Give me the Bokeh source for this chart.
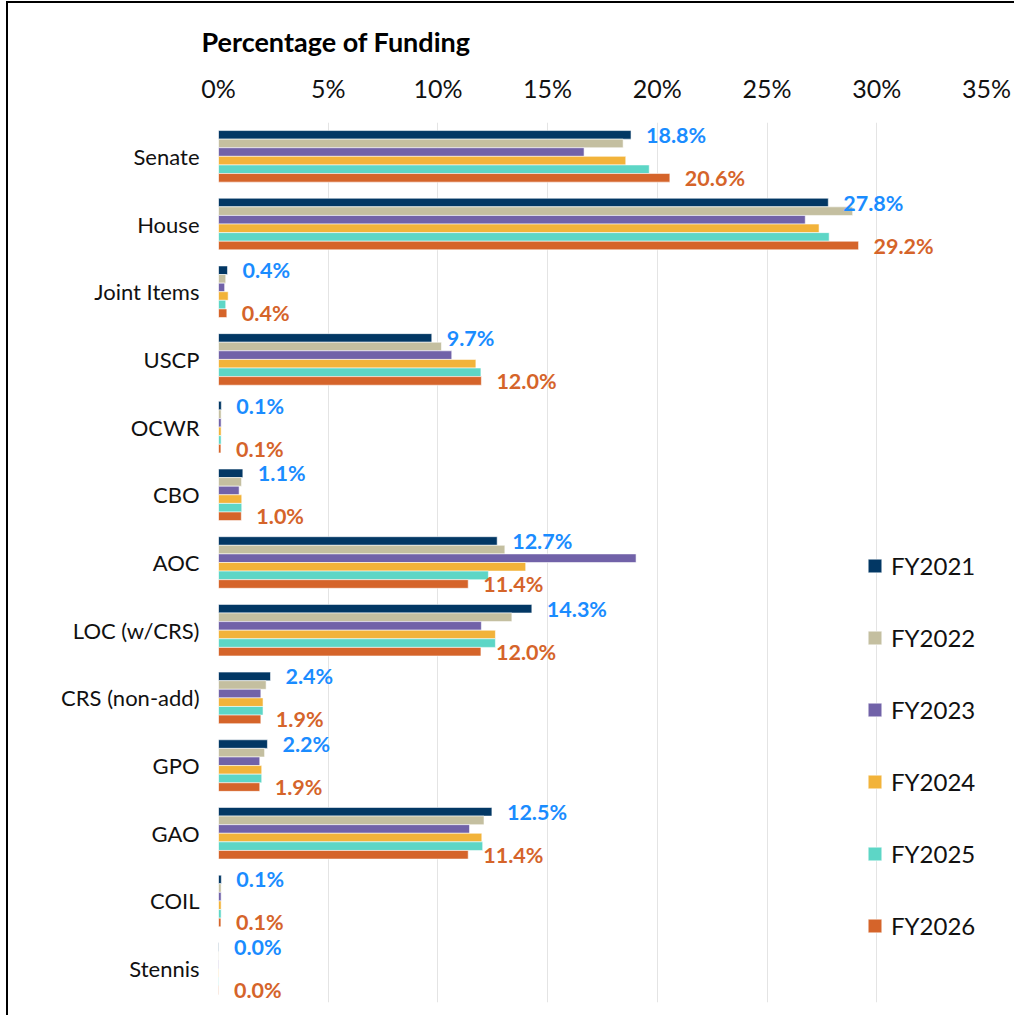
from bokeh.plotting import figure
from bokeh.models import FactorRange, Range1d, FixedTicker, PrintfTickFormatter, ColumnDataSource
from bokeh.transform import dodge
from bokeh.core.properties import value
from bokeh.embed import file_html
from bokeh.resources import INLINE

categories = ["Senate", "House", "Joint Items", "USCP", "OCWR", "CBO", "AOC",
              "LOC (w/CRS)", "CRS (non-add)", "GPO", "GAO", "COIL", "Stennis"]
series_names = ["FY2021", "FY2022", "FY2023", "FY2024", "FY2025", "FY2026"]
fy2021 = [18.80, 27.79, 0.41, 9.72, 0.13, 1.11, 12.70, 14.28, 2.37, 2.23, 12.46, 0.13, 0.02]
fy2022 = [18.44, 28.90, 0.33, 10.16, 0.12, 1.05, 13.05, 13.37, 2.17, 2.10, 12.10, 0.12, 0.02]
fy2023 = [16.66, 26.74, 0.28, 10.63, 0.12, 0.94, 19.03, 11.98, 1.93, 1.88, 11.44, 0.12, 0.02]
fy2024 = [18.56, 27.37, 0.44, 11.73, 0.12, 1.06, 14.00, 12.62, 2.03, 1.97, 12.00, 0.12, 0.02]
fy2025 = [19.63, 27.83, 0.33, 11.96, 0.12, 1.06, 12.30, 12.62, 2.03, 1.97, 12.04, 0.12, 0.02]
fy2026 = [20.57, 29.17, 0.38, 11.98, 0.11, 1.04, 11.38, 11.96, 1.93, 1.88, 11.38, 0.11, 0.02]
x_ticks = [0, 5, 10, 15, 20, 25, 30, 35]

series = [fy2021, fy2022, fy2023, fy2024, fy2025, fy2026]
colors = ["#023764", "#C4BFA0", "#7162A8", "#F2B33A", "#5DD6C6", "#D5642A"]
FONT = "Lato"

y_range = FactorRange(factors=categories[::-1], range_padding=0)
p = figure(width=1008, height=1014, y_range=y_range, x_range=Range1d(0, 35),
           x_axis_location="above", output_backend="svg", toolbar_location=None,
           min_border_left=210, min_border_right=30, min_border_top=119, min_border_bottom=15)
p.styles = {"margin-left": "6px", "margin-top": "1px",
            "border-left": "2px solid #000", "border-top": "2px solid #000"}
p.outline_line_color = None

h = 0.127
for i, (name, vals, col) in enumerate(zip(series_names, series, colors)):
    src = ColumnDataSource(dict(cat=categories, v=vals))
    off = (2.5 - i) * h
    p.hbar(y=dodge("cat", off, range=y_range), right="v", left=0, height=h, source=src,
           fill_color=col, line_color="white", line_width=0.8, line_alpha=0.7,
           legend_label=name)

label_specs = [(fy2021, 2.5 * h, "#1A8CFF"), (fy2026, -2.5 * h, "#D5642A")]
for vals, off, col in label_specs:
    src = ColumnDataSource(dict(cat=categories, v=vals, lbl=[f"{x:.1f}%" for x in vals]))
    p.text(x="v", y=dodge("cat", off, range=y_range), text="lbl", source=src,
           x_offset=15, text_baseline="middle", text_align="left",
           text_font=value(FONT), text_font_style="bold", text_font_size="21.5px",
           text_color=col)

# axes
p.xaxis.ticker = FixedTicker(ticks=x_ticks)
p.xaxis.formatter = PrintfTickFormatter(format="%d%%")
p.xaxis.axis_line_color = None
p.xaxis.major_tick_line_color = None
p.xaxis.minor_tick_line_color = None
p.xaxis.major_label_text_font = FONT
p.xaxis.major_label_text_font_size = "25px"
p.xaxis.major_label_text_color = "#111111"
p.xaxis.major_label_standoff = 14

p.yaxis.axis_line_color = None
p.yaxis.major_tick_line_color = None
p.yaxis.minor_tick_line_color = None
p.yaxis.major_label_text_font = FONT
p.yaxis.major_label_text_font_size = "22px"
p.yaxis.major_label_text_color = "#111111"
p.yaxis.major_label_standoff = 13

p.xgrid.grid_line_color = "#E4E4E4"
p.ygrid.grid_line_color = None

# title
p.title.text = "Percentage of Funding"
p.title.text_font = FONT
p.title.text_font_style = "bold"
p.title.text_font_size = "27px"
p.title.text_color = "#000000"
p.title.align = "left"
p.title.offset = -17
p.title.standoff = 24

# legend
lg = p.legend[0]
lg.location = (648, 62)
lg.label_text_font = FONT
lg.label_text_font_size = "24px"
lg.label_text_color = "#111111"
lg.glyph_height = 17
lg.glyph_width = 17
lg.label_height = 30
lg.spacing = 42
lg.padding = 0
lg.margin = 0
lg.label_standoff = 8
lg.border_line_color = None
lg.background_fill_alpha = 0

open("out.html", "w").write(file_html(p, INLINE))
